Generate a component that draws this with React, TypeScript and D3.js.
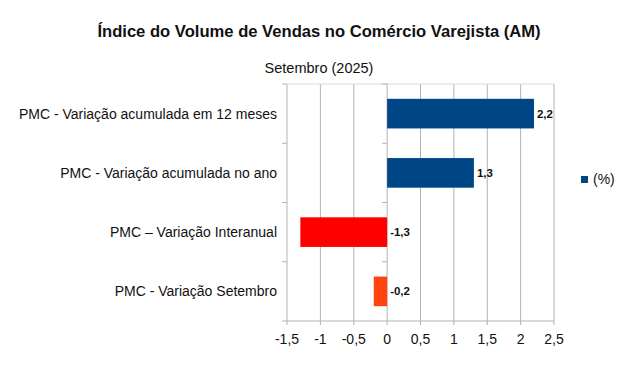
import React from 'react'
import * as d3 from 'd3'

const categories = [
  'PMC - Variação acumulada em 12 meses',
  'PMC - Variação acumulada no ano',
  'PMC – Variação Interanual',
  'PMC - Variação Setembro',
]
const values = [2.2, 1.3, -1.3, -0.2]
const barColors = ['#004586', '#004586', '#ff0000', '#ff420e']
const xTicks = [-1.5, -1, -0.5, 0, 0.5, 1, 1.5, 2, 2.5]

const fmt = (v: number) => String(v).replace('.', ',')

export default function App() {
  const width = 631
  const height = 371
  const left = 287
  const right = 554
  const top = 84
  const bottom = 321

  const x = d3.scaleLinear().domain([-1.5, 2.5]).range([left, right])
  const y = d3.scaleBand().domain(categories).range([top, bottom]).paddingInner(0.5).paddingOuter(0.25)
  const band = d3.scaleBand().domain(categories).range([top, bottom])

  const font = 'Liberation Sans, Arial, sans-serif'
  const grid = '#b3b3b3'

  return (
    <svg width={width} height={height} style={{ position: 'absolute', left: 0, top: 0, fontFamily: font }}>
      <rect width={width} height={height} fill="#fff" />
      <text x={319} y={37} textAnchor="middle" fontSize={16.6} fontWeight="bold" fill="#111">
        Índice do Volume de Vendas no Comércio Varejista (AM)
      </text>
      <text x={319} y={73} textAnchor="middle" fontSize={14.5} fill="#111">Setembro (2025)</text>

      {/* grid */}
      {xTicks.map(t => (
        <line key={t} x1={x(t)} x2={x(t)} y1={top} y2={bottom + 4} stroke={grid} strokeWidth={1} />
      ))}
      <line x1={left} x2={right} y1={top} y2={top} stroke="#d9d9d9" />
      <line x1={left - 5} x2={right} y1={bottom} y2={bottom} stroke={grid} />
      {categories.map((c, i) => {
        const yy = (band(c) as number)
        return (
          <g key={'t' + i}>
            <line x1={left - 5} x2={left} y1={yy} y2={yy} stroke={grid} />
            <line x1={x(0) - 5} x2={x(0)} y1={yy} y2={yy} stroke={grid} />
          </g>
        )
      })}

      {/* bars */}
      {categories.map((c, i) => {
        const v = values[i]
        const y0 = y(c) as number
        return (
          <g key={c}>
            <rect x={x(Math.min(0, v))} y={y0} width={Math.abs(x(v) - x(0))} height={y.bandwidth()} fill={barColors[i]} />
            <text x={x(Math.max(0, v)) + 3} y={y0 + y.bandwidth() / 2} dy="0.35em" fontSize={11.5} fontWeight="bold" fill="#111">
              {fmt(v)}
            </text>
            <text x={277} y={(band(c) as number) + band.bandwidth() / 2} dy="0.35em" textAnchor="end" fontSize={14} fill="#111">
              {c}
            </text>
          </g>
        )
      })}

      {/* x tick labels */}
      {xTicks.map(t => (
        <text key={'l' + t} x={x(t)} y={344} textAnchor="middle" fontSize={14} fill="#111">{fmt(t)}</text>
      ))}

      {/* legend */}
      <rect x={581} y={176} width={7} height={7} fill="#004586" />
      <text x={593} y={179.5} dy="0.35em" fontSize={14} fill="#111">(%)</text>
    </svg>
  )
}
